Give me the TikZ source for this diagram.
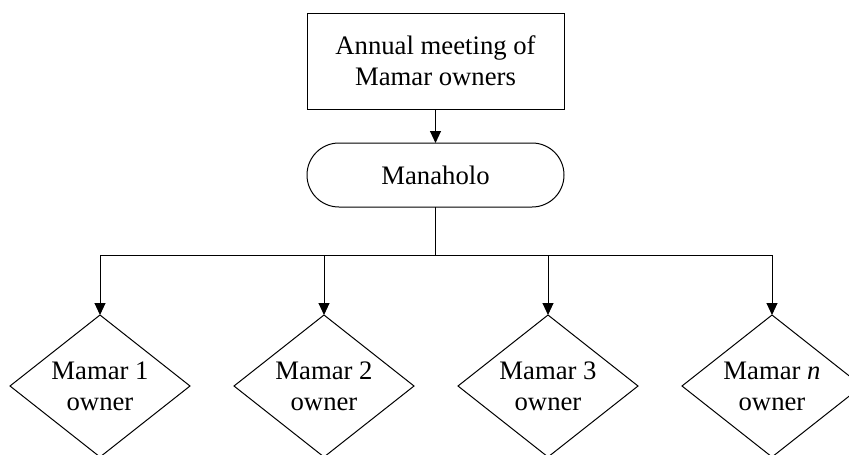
\documentclass[tikz,border=0pt]{standalone}
\usepackage{fontspec}
\setmainfont{Liberation Serif}
\usetikzlibrary{arrows.meta,shapes.geometric}
\begin{document}
\begin{tikzpicture}[x=1pt,y=-1pt,
  every node/.style={font=\fontsize{26.7}{31}\selectfont, align=center, inner sep=0pt, outer sep=0pt},
  line/.style={draw=black, line width=1pt},
  arr/.style={line, -{Triangle[length=12pt,width=11pt]}},
  topbox/.style={line, rectangle, minimum width=257pt, minimum height=96pt},
  stadium/.style={line, rectangle, rounded corners=31.9pt, minimum width=257pt, minimum height=64pt},
  dmd/.style={line, diamond, shape aspect=1.27, minimum width=180pt, minimum height=142pt}
]
\clip (0,0) rectangle (849,455);
\node[topbox] (meet) at (435.5,61) {Annual meeting of\\Mamar owners};
\node[stadium] (mana) at (435.5,175) {Manaholo};
\node[dmd] (d1) at (100,386) {Mamar 1\\owner};
\node[dmd] (d2) at (324,386) {Mamar 2\\owner};
\node[dmd] (d3) at (548,386) {Mamar 3\\owner};
\node[dmd] (d4) at (772,386) {Mamar \textit{n}\\owner};
\coordinate (bus) at (435.5,255);
\draw[arr] (meet.south) -- (mana.north);
\draw[line] (mana.south) -- (bus);
\draw[line] (d1.north |- bus) -- (d4.north |- bus);
\foreach \d in {d1,d2,d3,d4}{
  \draw[arr] (\d.north |- bus) -- (\d.north);
}
\end{tikzpicture}
\end{document}
